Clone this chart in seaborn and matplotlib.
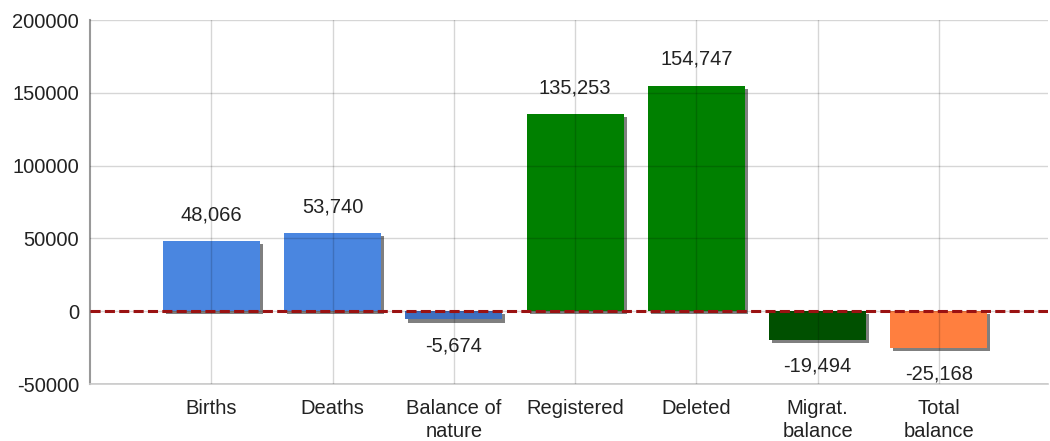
import matplotlib
matplotlib.use("Agg")
import matplotlib.pyplot as plt
import matplotlib.patheffects as pe
import seaborn as sns
import pandas as pd

categories = ["Births", "Deaths", "Balance of\nnature", "Registered", "Deleted",
              "Migrat.\nbalance", "Total\nbalance"]
values = [48066, 53740, -5674, 135253, 154747, -19494, -25168]
bar_colors = ["#4a86e0", "#4a86e0", "#3d6fc0", "#008000", "#008000", "#005000", "#ff7f3f"]
y_ticks = [-50000, 0, 50000, 100000, 150000, 200000]

df = pd.DataFrame({"category": categories, "value": values})

sns.set_style("white")
plt.rcParams["font.family"] = ["Liberation Sans", "DejaVu Sans"]

fig = plt.figure(figsize=(10.5, 4.41), dpi=100)
ax = fig.add_axes([90 / 1050, 57 / 441, 958 / 1050, 364 / 441])

sns.barplot(data=df, x="category", y="value", hue="category", palette=bar_colors,
            legend=False, width=0.8, ax=ax, saturation=1, edgecolor="none", linewidth=0)

# drop shadow under each bar
for bar in ax.patches:
    bar.set_path_effects([pe.SimplePatchShadow(offset=(2.2, -2.2), shadow_rgbFace="#2a2a2a", alpha=0.6),
                          pe.Normal()])
    bar.set_zorder(2)

ax.axhline(0, color="#9a1212", lw=2.2, ls=(0, (3.3, 1.4)), zorder=4)

for i, v in enumerate(values):
    ax.annotate(f"{v:,}", (i, v), xytext=(0, 19 if v > 0 else -19), textcoords="offset points",
                ha="center", va="center", fontsize=14.5, color="#222222", zorder=5)

ax.set_xlim(-1, 6.9)
ax.set_ylim(-50000, 200000)
ax.set_yticks(y_ticks)
ax.set_yticklabels([str(t) for t in y_ticks])
ax.grid(True, color="black", alpha=0.16, lw=1)
ax.set_axisbelow(False)
for gl in ax.get_xgridlines() + ax.get_ygridlines():
    gl.set_zorder(3)

ax.set_xlabel("")
ax.set_ylabel("")
ax.tick_params(axis="both", labelsize=14.5, colors="#222222", direction="out")
ax.tick_params(axis="y", length=5, width=1.5, color="#333333", pad=3)
ax.tick_params(axis="x", length=4, width=1.2, color="#333333", pad=7)
for t in ax.get_xticklabels():
    t.set_linespacing(1.25)

for s in ["top", "right"]:
    ax.spines[s].set_visible(False)
ax.spines["left"].set_color("#999999")
ax.spines["left"].set_linewidth(1.5)
ax.spines["bottom"].set_color("#cccccc")
ax.spines["bottom"].set_linewidth(1.2)

fig.savefig("out.png", dpi=100)
